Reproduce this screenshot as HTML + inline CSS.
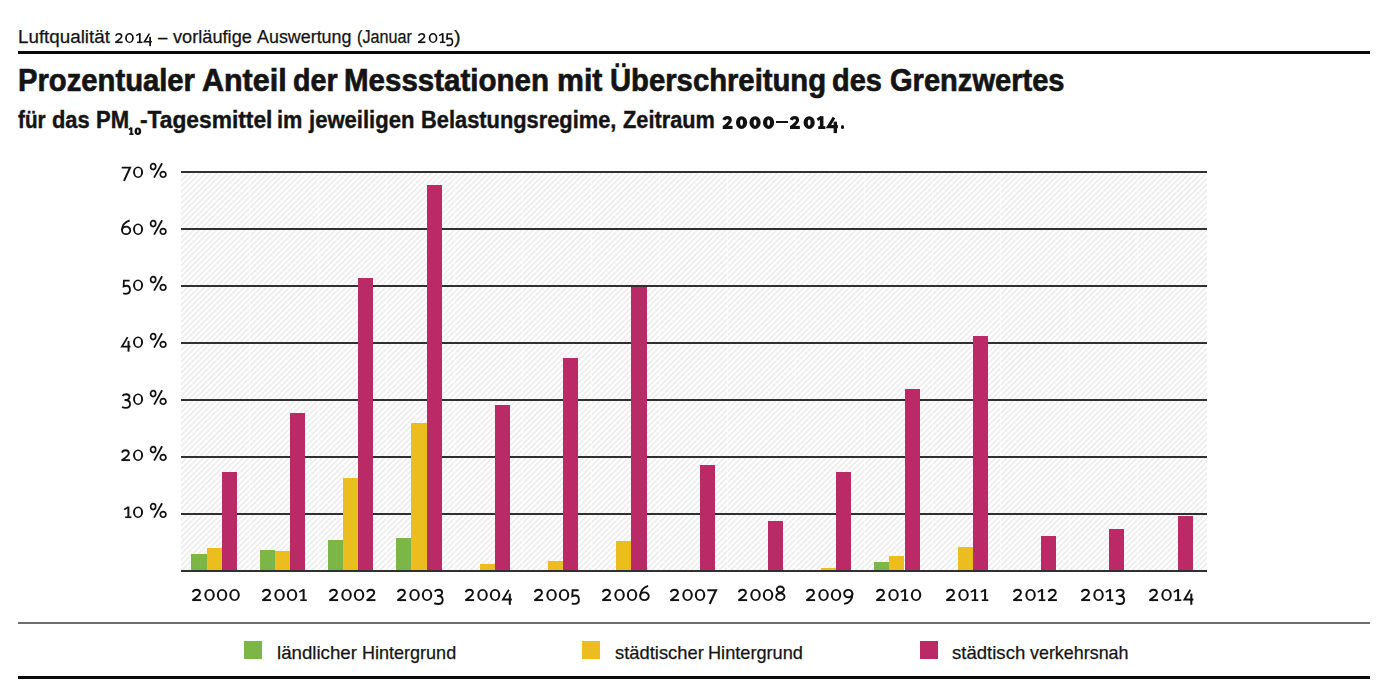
<!DOCTYPE html>
<html lang="de"><head><meta charset="utf-8"><title>PM10 Grenzwertüberschreitung</title>
<style>
*{margin:0;padding:0;box-sizing:border-box}
html,body{width:1388px;height:697px;background:#fff;overflow:hidden}
body{position:relative;font-family:"Liberation Sans",sans-serif;color:#111}
.a{position:absolute}
.t{position:absolute;white-space:nowrap;line-height:1;transform-origin:0 0;color:#141414}
.rule{position:absolute;left:18px;width:1352px;background:#0a0a0a}
.grid{position:absolute;height:2px;background:#303030}
.lg{position:absolute;width:18px;height:18px;top:641px}
svg.g{position:absolute;overflow:visible}
</style></head>
<body>
<div class="rule" style="top:50.5px;height:3px"></div>
<div class="a" style="left:181.0px;top:172.37px;width:1025.8px;height:398.23px;background:repeating-linear-gradient(135deg,#fff 0px,#fff 0.6px,#eaeaea 2.2px,#fff 3.8px,#fff 4px)"></div>
<div class="a" style="left:249.3px;top:172.37px;width:1px;height:398.23px;background:rgba(255,255,255,0.6)"></div>
<div class="a" style="left:317.5px;top:172.37px;width:1px;height:398.23px;background:rgba(255,255,255,0.6)"></div>
<div class="a" style="left:385.8px;top:172.37px;width:1px;height:398.23px;background:rgba(255,255,255,0.6)"></div>
<div class="a" style="left:454.1px;top:172.37px;width:1px;height:398.23px;background:rgba(255,255,255,0.6)"></div>
<div class="a" style="left:522.3px;top:172.37px;width:1px;height:398.23px;background:rgba(255,255,255,0.6)"></div>
<div class="a" style="left:590.6px;top:172.37px;width:1px;height:398.23px;background:rgba(255,255,255,0.6)"></div>
<div class="a" style="left:658.9px;top:172.37px;width:1px;height:398.23px;background:rgba(255,255,255,0.6)"></div>
<div class="a" style="left:727.2px;top:172.37px;width:1px;height:398.23px;background:rgba(255,255,255,0.6)"></div>
<div class="a" style="left:795.4px;top:172.37px;width:1px;height:398.23px;background:rgba(255,255,255,0.6)"></div>
<div class="a" style="left:863.7px;top:172.37px;width:1px;height:398.23px;background:rgba(255,255,255,0.6)"></div>
<div class="a" style="left:932.0px;top:172.37px;width:1px;height:398.23px;background:rgba(255,255,255,0.6)"></div>
<div class="a" style="left:1000.2px;top:172.37px;width:1px;height:398.23px;background:rgba(255,255,255,0.6)"></div>
<div class="a" style="left:1068.5px;top:172.37px;width:1px;height:398.23px;background:rgba(255,255,255,0.6)"></div>
<div class="a" style="left:1136.8px;top:172.37px;width:1px;height:398.23px;background:rgba(255,255,255,0.6)"></div>
<div class="grid" style="left:181.0px;width:1025.8px;top:512.7px"></div>
<div class="grid" style="left:181.0px;width:1025.8px;top:455.8px"></div>
<div class="grid" style="left:181.0px;width:1025.8px;top:398.9px"></div>
<div class="grid" style="left:181.0px;width:1025.8px;top:342.0px"></div>
<div class="grid" style="left:181.0px;width:1025.8px;top:285.2px"></div>
<div class="grid" style="left:181.0px;width:1025.8px;top:228.3px"></div>
<div class="grid" style="left:181.0px;width:1025.8px;top:171.4px"></div>
<div class="a" style="left:191.4px;width:15.2px;top:554.1px;height:16.5px;background:#7cb646"></div>
<div class="a" style="left:206.6px;width:15.2px;top:548.4px;height:22.2px;background:#ebbd1f"></div>
<div class="a" style="left:221.8px;width:15.2px;top:471.8px;height:98.8px;background:#b92a67"></div>
<div class="a" style="left:259.7px;width:15.2px;top:549.8px;height:20.8px;background:#7cb646"></div>
<div class="a" style="left:274.9px;width:15.2px;top:551.3px;height:19.3px;background:#ebbd1f"></div>
<div class="a" style="left:290.1px;width:15.2px;top:412.7px;height:157.9px;background:#b92a67"></div>
<div class="a" style="left:327.9px;width:15.2px;top:539.5px;height:31.1px;background:#7cb646"></div>
<div class="a" style="left:343.1px;width:15.2px;top:477.8px;height:92.8px;background:#ebbd1f"></div>
<div class="a" style="left:358.3px;width:15.2px;top:278.4px;height:292.2px;background:#b92a67"></div>
<div class="a" style="left:396.2px;width:15.2px;top:537.5px;height:33.1px;background:#7cb646"></div>
<div class="a" style="left:411.4px;width:15.2px;top:422.5px;height:148.1px;background:#ebbd1f"></div>
<div class="a" style="left:426.6px;width:15.2px;top:185.2px;height:385.4px;background:#b92a67"></div>
<div class="a" style="left:479.7px;width:15.2px;top:564.1px;height:6.5px;background:#ebbd1f"></div>
<div class="a" style="left:494.9px;width:15.2px;top:405.0px;height:165.6px;background:#b92a67"></div>
<div class="a" style="left:547.9px;width:15.2px;top:561.0px;height:9.6px;background:#ebbd1f"></div>
<div class="a" style="left:563.1px;width:15.2px;top:358.2px;height:212.4px;background:#b92a67"></div>
<div class="a" style="left:616.2px;width:15.2px;top:540.5px;height:30.1px;background:#ebbd1f"></div>
<div class="a" style="left:631.4px;width:15.2px;top:287.2px;height:283.4px;background:#b92a67"></div>
<div class="a" style="left:699.7px;width:15.2px;top:465.2px;height:105.4px;background:#b92a67"></div>
<div class="a" style="left:768.0px;width:15.2px;top:520.7px;height:49.9px;background:#b92a67"></div>
<div class="a" style="left:821.0px;width:15.2px;top:567.5px;height:3.1px;background:#ebbd1f"></div>
<div class="a" style="left:836.2px;width:15.2px;top:471.9px;height:98.7px;background:#b92a67"></div>
<div class="a" style="left:874.1px;width:15.2px;top:561.8px;height:8.8px;background:#7cb646"></div>
<div class="a" style="left:889.3px;width:15.2px;top:556.0px;height:14.6px;background:#ebbd1f"></div>
<div class="a" style="left:904.5px;width:15.2px;top:388.6px;height:182.0px;background:#b92a67"></div>
<div class="a" style="left:957.6px;width:15.2px;top:546.9px;height:23.7px;background:#ebbd1f"></div>
<div class="a" style="left:972.8px;width:15.2px;top:336.1px;height:234.5px;background:#b92a67"></div>
<div class="a" style="left:1041.0px;width:15.2px;top:536.0px;height:34.6px;background:#b92a67"></div>
<div class="a" style="left:1109.3px;width:15.2px;top:528.5px;height:42.1px;background:#b92a67"></div>
<div class="a" style="left:1177.6px;width:15.2px;top:515.7px;height:54.9px;background:#b92a67"></div>
<div class="grid" style="left:181.0px;width:1025.8px;top:569.6px"></div>
<div class="rule" style="top:622px;height:2px;background:#6e6e6e"></div>
<div class="lg" style="left:244px;background:#7cb646"></div>
<div class="lg" style="left:582px;background:#ebbd1f"></div>
<div class="lg" style="left:920px;background:#b92a67"></div>
<div class="rule" style="top:676px;height:3px"></div>
<div class="t" style="left:17.56px;top:27.80px;font-size:18px;-webkit-text-stroke:0.25px #141414;transform:scaleX(1.0437)">Luftqualität</div>
<div class="t" style="left:157.80px;top:27.80px;font-size:18px;-webkit-text-stroke:0.25px #141414;transform:scaleX(0.9400)">–</div>
<div class="t" style="left:173.00px;top:27.80px;font-size:18px;-webkit-text-stroke:0.25px #141414;transform:scaleX(1.0104)">vorläufige</div>
<div class="t" style="left:256.80px;top:27.80px;font-size:18px;-webkit-text-stroke:0.25px #141414;transform:scaleX(0.9936)">Auswertung</div>
<div class="t" style="left:357.30px;top:27.80px;font-size:18px;-webkit-text-stroke:0.25px #141414;transform:scaleX(0.8983)">(Januar</div>
<div class="t" style="left:454.40px;top:27.80px;font-size:18px;-webkit-text-stroke:0.25px #141414;transform:scaleX(1.1000)">)</div>
<div class="t" style="left:18.37px;top:63.70px;font-size:32px;font-weight:bold;-webkit-text-stroke:0.7px #141414;transform:scaleX(0.9130)">Prozentualer</div>
<div class="t" style="left:202.05px;top:63.70px;font-size:32px;font-weight:bold;-webkit-text-stroke:0.7px #141414;transform:scaleX(0.9523)">Anteil</div>
<div class="t" style="left:292.61px;top:63.70px;font-size:32px;font-weight:bold;-webkit-text-stroke:0.7px #141414;transform:scaleX(0.8939)">der</div>
<div class="t" style="left:344.06px;top:63.70px;font-size:32px;font-weight:bold;-webkit-text-stroke:0.7px #141414;transform:scaleX(0.9219)">Messstationen</div>
<div class="t" style="left:557.11px;top:63.70px;font-size:32px;font-weight:bold;-webkit-text-stroke:0.7px #141414;transform:scaleX(0.9457)">mit</div>
<div class="t" style="left:610.17px;top:63.70px;font-size:32px;font-weight:bold;-webkit-text-stroke:0.7px #141414;transform:scaleX(0.9137)">Überschreitung</div>
<div class="t" style="left:831.99px;top:63.70px;font-size:32px;font-weight:bold;-webkit-text-stroke:0.7px #141414;transform:scaleX(0.9057)">des</div>
<div class="t" style="left:889.69px;top:63.70px;font-size:32px;font-weight:bold;-webkit-text-stroke:0.7px #141414;transform:scaleX(0.9084)">Grenzwertes</div>
<div class="t" style="left:18.40px;top:109.20px;font-size:23px;font-weight:bold;-webkit-text-stroke:0.4px #141414;transform:scaleX(0.8984)">für</div>
<div class="t" style="left:51.95px;top:109.20px;font-size:23px;font-weight:bold;-webkit-text-stroke:0.4px #141414;transform:scaleX(0.9500)">das</div>
<div class="t" style="left:95.94px;top:109.20px;font-size:23px;font-weight:bold;-webkit-text-stroke:0.4px #141414;transform:scaleX(0.9594)">PM</div>
<div class="t" style="left:140.06px;top:109.20px;font-size:23px;font-weight:bold;-webkit-text-stroke:0.4px #141414;transform:scaleX(0.9898)">-Tagesmittel</div>
<div class="t" style="left:277.06px;top:109.20px;font-size:23px;font-weight:bold;-webkit-text-stroke:0.4px #141414;transform:scaleX(0.9440)">im</div>
<div class="t" style="left:309.46px;top:109.20px;font-size:23px;font-weight:bold;-webkit-text-stroke:0.4px #141414;transform:scaleX(0.9591)">jeweiligen</div>
<div class="t" style="left:421.25px;top:109.20px;font-size:23px;font-weight:bold;-webkit-text-stroke:0.4px #141414;transform:scaleX(0.9495)">Belastungsregime,</div>
<div class="t" style="left:623.10px;top:109.20px;font-size:23px;font-weight:bold;-webkit-text-stroke:0.4px #141414;transform:scaleX(0.9458)">Zeitraum</div>
<div class="t" style="left:276.92px;top:643.10px;font-size:19px;-webkit-text-stroke:0.25px #141414;transform:scaleX(0.9825)">ländlicher</div>
<div class="t" style="left:361.75px;top:643.10px;font-size:19px;-webkit-text-stroke:0.25px #141414;transform:scaleX(0.9485)">Hintergrund</div>
<div class="t" style="left:614.53px;top:643.10px;font-size:19px;-webkit-text-stroke:0.25px #141414;transform:scaleX(0.9670)">städtischer</div>
<div class="t" style="left:708.14px;top:643.10px;font-size:19px;-webkit-text-stroke:0.25px #141414;transform:scaleX(0.9557)">Hintergrund</div>
<div class="t" style="left:951.92px;top:643.10px;font-size:19px;-webkit-text-stroke:0.25px #141414;transform:scaleX(0.9767)">städtisch</div>
<div class="t" style="left:1030.40px;top:643.10px;font-size:19px;-webkit-text-stroke:0.25px #141414;transform:scaleX(0.9423)">verkehrsnah</div>
<svg class="g" style="left:190.78px;top:600.90px" width="1" height="1"><g transform="translate(0.00,0) scale(1.0000)"><path d="M1.75,-8.7C2.4,-10.5 3.8,-11.2 5.35,-11.2C7.5,-11.2 8.9,-10 8.9,-8.2C8.9,-6.2 7.2,-4.7 1.9,-1.0" fill="none" stroke="#111" stroke-width="1.89"/><path d="M1.2,-0.9L10.1,-0.9" fill="none" stroke="#111" stroke-width="1.94"/></g><g transform="translate(12.30,0) scale(1.0000)"><path d="M1.00,-5.95A5.25,5.95 0 1,1 11.50,-5.95A5.25,5.95 0 1,1 1.00,-5.95ZM3.05,-5.95A3.20,4.35 0 1,0 9.45,-5.95A3.20,4.35 0 1,0 3.05,-5.95Z" fill="#111" fill-rule="evenodd"/></g><g transform="translate(24.80,0) scale(1.0000)"><path d="M1.00,-5.95A5.25,5.95 0 1,1 11.50,-5.95A5.25,5.95 0 1,1 1.00,-5.95ZM3.05,-5.95A3.20,4.35 0 1,0 9.45,-5.95A3.20,4.35 0 1,0 3.05,-5.95Z" fill="#111" fill-rule="evenodd"/></g><g transform="translate(37.30,0) scale(1.0000)"><path d="M1.00,-5.95A5.25,5.95 0 1,1 11.50,-5.95A5.25,5.95 0 1,1 1.00,-5.95ZM3.05,-5.95A3.20,4.35 0 1,0 9.45,-5.95A3.20,4.35 0 1,0 3.05,-5.95Z" fill="#111" fill-rule="evenodd"/></g></svg>
<svg class="g" style="left:260.56px;top:600.90px" width="1" height="1"><g transform="translate(0.00,0) scale(1.0000)"><path d="M1.75,-8.7C2.4,-10.5 3.8,-11.2 5.35,-11.2C7.5,-11.2 8.9,-10 8.9,-8.2C8.9,-6.2 7.2,-4.7 1.9,-1.0" fill="none" stroke="#111" stroke-width="1.89"/><path d="M1.2,-0.9L10.1,-0.9" fill="none" stroke="#111" stroke-width="1.94"/></g><g transform="translate(12.30,0) scale(1.0000)"><path d="M1.00,-5.95A5.25,5.95 0 1,1 11.50,-5.95A5.25,5.95 0 1,1 1.00,-5.95ZM3.05,-5.95A3.20,4.35 0 1,0 9.45,-5.95A3.20,4.35 0 1,0 3.05,-5.95Z" fill="#111" fill-rule="evenodd"/></g><g transform="translate(24.80,0) scale(1.0000)"><path d="M1.00,-5.95A5.25,5.95 0 1,1 11.50,-5.95A5.25,5.95 0 1,1 1.00,-5.95ZM3.05,-5.95A3.20,4.35 0 1,0 9.45,-5.95A3.20,4.35 0 1,0 3.05,-5.95Z" fill="#111" fill-rule="evenodd"/></g><g transform="translate(37.30,0) scale(1.0000)"><path d="M5.3,-11.85L5.3,-1.2" fill="none" stroke="#111" stroke-width="2.05"/><path d="M5.3,-11.3L0.9,-8.9" fill="none" stroke="#111" stroke-width="1.62"/><path d="M2.0,-0.8L8.5,-0.8" fill="none" stroke="#111" stroke-width="1.73"/></g></svg>
<svg class="g" style="left:328.02px;top:600.90px" width="1" height="1"><g transform="translate(0.00,0) scale(1.0000)"><path d="M1.75,-8.7C2.4,-10.5 3.8,-11.2 5.35,-11.2C7.5,-11.2 8.9,-10 8.9,-8.2C8.9,-6.2 7.2,-4.7 1.9,-1.0" fill="none" stroke="#111" stroke-width="1.89"/><path d="M1.2,-0.9L10.1,-0.9" fill="none" stroke="#111" stroke-width="1.94"/></g><g transform="translate(12.30,0) scale(1.0000)"><path d="M1.00,-5.95A5.25,5.95 0 1,1 11.50,-5.95A5.25,5.95 0 1,1 1.00,-5.95ZM3.05,-5.95A3.20,4.35 0 1,0 9.45,-5.95A3.20,4.35 0 1,0 3.05,-5.95Z" fill="#111" fill-rule="evenodd"/></g><g transform="translate(24.80,0) scale(1.0000)"><path d="M1.00,-5.95A5.25,5.95 0 1,1 11.50,-5.95A5.25,5.95 0 1,1 1.00,-5.95ZM3.05,-5.95A3.20,4.35 0 1,0 9.45,-5.95A3.20,4.35 0 1,0 3.05,-5.95Z" fill="#111" fill-rule="evenodd"/></g><g transform="translate(37.30,0) scale(1.0000)"><path d="M1.75,-8.7C2.4,-10.5 3.8,-11.2 5.35,-11.2C7.5,-11.2 8.9,-10 8.9,-8.2C8.9,-6.2 7.2,-4.7 1.9,-1.0" fill="none" stroke="#111" stroke-width="1.89"/><path d="M1.2,-0.9L10.1,-0.9" fill="none" stroke="#111" stroke-width="1.94"/></g></svg>
<svg class="g" style="left:396.19px;top:600.90px" width="1" height="1"><g transform="translate(0.00,0) scale(1.0000)"><path d="M1.75,-8.7C2.4,-10.5 3.8,-11.2 5.35,-11.2C7.5,-11.2 8.9,-10 8.9,-8.2C8.9,-6.2 7.2,-4.7 1.9,-1.0" fill="none" stroke="#111" stroke-width="1.89"/><path d="M1.2,-0.9L10.1,-0.9" fill="none" stroke="#111" stroke-width="1.94"/></g><g transform="translate(12.30,0) scale(1.0000)"><path d="M1.00,-5.95A5.25,5.95 0 1,1 11.50,-5.95A5.25,5.95 0 1,1 1.00,-5.95ZM3.05,-5.95A3.20,4.35 0 1,0 9.45,-5.95A3.20,4.35 0 1,0 3.05,-5.95Z" fill="#111" fill-rule="evenodd"/></g><g transform="translate(24.80,0) scale(1.0000)"><path d="M1.00,-5.95A5.25,5.95 0 1,1 11.50,-5.95A5.25,5.95 0 1,1 1.00,-5.95ZM3.05,-5.95A3.20,4.35 0 1,0 9.45,-5.95A3.20,4.35 0 1,0 3.05,-5.95Z" fill="#111" fill-rule="evenodd"/></g><g transform="translate(37.30,0) scale(1.0000)"><path d="M1.4,-9.4C2.4,-10.7 3.9,-11.2 5.4,-11.2C7.5,-11.2 8.8,-10.1 8.8,-8.4C8.8,-6.4 7,-5.2 3.7,-5.2C7.3,-5.2 9.4,-3.6 9.4,-1.0C9.4,1.7 7.4,3.0 5,3.0C3.5,3.0 2.1,2.7 1.0,2.1" fill="none" stroke="#111" stroke-width="1.89"/></g></svg>
<svg class="g" style="left:464.31px;top:600.90px" width="1" height="1"><g transform="translate(0.00,0) scale(1.0000)"><path d="M1.75,-8.7C2.4,-10.5 3.8,-11.2 5.35,-11.2C7.5,-11.2 8.9,-10 8.9,-8.2C8.9,-6.2 7.2,-4.7 1.9,-1.0" fill="none" stroke="#111" stroke-width="1.89"/><path d="M1.2,-0.9L10.1,-0.9" fill="none" stroke="#111" stroke-width="1.94"/></g><g transform="translate(12.30,0) scale(1.0000)"><path d="M1.00,-5.95A5.25,5.95 0 1,1 11.50,-5.95A5.25,5.95 0 1,1 1.00,-5.95ZM3.05,-5.95A3.20,4.35 0 1,0 9.45,-5.95A3.20,4.35 0 1,0 3.05,-5.95Z" fill="#111" fill-rule="evenodd"/></g><g transform="translate(24.80,0) scale(1.0000)"><path d="M1.00,-5.95A5.25,5.95 0 1,1 11.50,-5.95A5.25,5.95 0 1,1 1.00,-5.95ZM3.05,-5.95A3.20,4.35 0 1,0 9.45,-5.95A3.20,4.35 0 1,0 3.05,-5.95Z" fill="#111" fill-rule="evenodd"/></g><g transform="translate(37.30,0) scale(1.0000)"><path d="M7.6,-11.3L1.6,-1.5L10.6,-1.5" fill="none" stroke="#111" stroke-width="1.84"/><path d="M8.5,-7.4L8.5,3.8" fill="none" stroke="#111" stroke-width="2.05"/></g></svg>
<svg class="g" style="left:533.13px;top:600.90px" width="1" height="1"><g transform="translate(0.00,0) scale(1.0000)"><path d="M1.75,-8.7C2.4,-10.5 3.8,-11.2 5.35,-11.2C7.5,-11.2 8.9,-10 8.9,-8.2C8.9,-6.2 7.2,-4.7 1.9,-1.0" fill="none" stroke="#111" stroke-width="1.89"/><path d="M1.2,-0.9L10.1,-0.9" fill="none" stroke="#111" stroke-width="1.94"/></g><g transform="translate(12.30,0) scale(1.0000)"><path d="M1.00,-5.95A5.25,5.95 0 1,1 11.50,-5.95A5.25,5.95 0 1,1 1.00,-5.95ZM3.05,-5.95A3.20,4.35 0 1,0 9.45,-5.95A3.20,4.35 0 1,0 3.05,-5.95Z" fill="#111" fill-rule="evenodd"/></g><g transform="translate(24.80,0) scale(1.0000)"><path d="M1.00,-5.95A5.25,5.95 0 1,1 11.50,-5.95A5.25,5.95 0 1,1 1.00,-5.95ZM3.05,-5.95A3.20,4.35 0 1,0 9.45,-5.95A3.20,4.35 0 1,0 3.05,-5.95Z" fill="#111" fill-rule="evenodd"/></g><g transform="translate(37.30,0) scale(1.0000)"><path d="M8.3,-10.8L2.3,-10.8L2.0,-4.8C3.0,-5.3 4.0,-5.5 5.0,-5.5C7.3,-5.5 8.6,-3.8 8.6,-1.2C8.6,1.5 6.7,2.9 4.4,2.9C3.3,2.9 2.4,2.7 1.5,2.3" fill="none" stroke="#111" stroke-width="1.89"/></g></svg>
<svg class="g" style="left:600.50px;top:600.90px" width="1" height="1"><g transform="translate(0.00,0) scale(1.0000)"><path d="M1.75,-8.7C2.4,-10.5 3.8,-11.2 5.35,-11.2C7.5,-11.2 8.9,-10 8.9,-8.2C8.9,-6.2 7.2,-4.7 1.9,-1.0" fill="none" stroke="#111" stroke-width="1.89"/><path d="M1.2,-0.9L10.1,-0.9" fill="none" stroke="#111" stroke-width="1.94"/></g><g transform="translate(12.30,0) scale(1.0000)"><path d="M1.00,-5.95A5.25,5.95 0 1,1 11.50,-5.95A5.25,5.95 0 1,1 1.00,-5.95ZM3.05,-5.95A3.20,4.35 0 1,0 9.45,-5.95A3.20,4.35 0 1,0 3.05,-5.95Z" fill="#111" fill-rule="evenodd"/></g><g transform="translate(24.80,0) scale(1.0000)"><path d="M1.00,-5.95A5.25,5.95 0 1,1 11.50,-5.95A5.25,5.95 0 1,1 1.00,-5.95ZM3.05,-5.95A3.20,4.35 0 1,0 9.45,-5.95A3.20,4.35 0 1,0 3.05,-5.95Z" fill="#111" fill-rule="evenodd"/></g><g transform="translate(37.30,0) scale(1.0000)"><path d="M1.85,-4.75A4.30,3.90 0 1,1 10.45,-4.75A4.30,3.90 0 1,1 1.85,-4.75Z" fill="none" stroke="#111" stroke-width="1.89"/><path d="M9.8,-15.2C5.6,-13.8 1.9,-10.8 1.9,-4.8" fill="none" stroke="#111" stroke-width="1.89"/></g></svg>
<svg class="g" style="left:669.27px;top:600.90px" width="1" height="1"><g transform="translate(0.00,0) scale(1.0000)"><path d="M1.75,-8.7C2.4,-10.5 3.8,-11.2 5.35,-11.2C7.5,-11.2 8.9,-10 8.9,-8.2C8.9,-6.2 7.2,-4.7 1.9,-1.0" fill="none" stroke="#111" stroke-width="1.89"/><path d="M1.2,-0.9L10.1,-0.9" fill="none" stroke="#111" stroke-width="1.94"/></g><g transform="translate(12.30,0) scale(1.0000)"><path d="M1.00,-5.95A5.25,5.95 0 1,1 11.50,-5.95A5.25,5.95 0 1,1 1.00,-5.95ZM3.05,-5.95A3.20,4.35 0 1,0 9.45,-5.95A3.20,4.35 0 1,0 3.05,-5.95Z" fill="#111" fill-rule="evenodd"/></g><g transform="translate(24.80,0) scale(1.0000)"><path d="M1.00,-5.95A5.25,5.95 0 1,1 11.50,-5.95A5.25,5.95 0 1,1 1.00,-5.95ZM3.05,-5.95A3.20,4.35 0 1,0 9.45,-5.95A3.20,4.35 0 1,0 3.05,-5.95Z" fill="#111" fill-rule="evenodd"/></g><g transform="translate(37.30,0) scale(1.0000)"><path d="M1.0,-10.8L9.7,-10.8L3.4,3.0" fill="none" stroke="#111" stroke-width="2.05"/></g></svg>
<svg class="g" style="left:737.14px;top:600.90px" width="1" height="1"><g transform="translate(0.00,0) scale(1.0000)"><path d="M1.75,-8.7C2.4,-10.5 3.8,-11.2 5.35,-11.2C7.5,-11.2 8.9,-10 8.9,-8.2C8.9,-6.2 7.2,-4.7 1.9,-1.0" fill="none" stroke="#111" stroke-width="1.89"/><path d="M1.2,-0.9L10.1,-0.9" fill="none" stroke="#111" stroke-width="1.94"/></g><g transform="translate(12.30,0) scale(1.0000)"><path d="M1.00,-5.95A5.25,5.95 0 1,1 11.50,-5.95A5.25,5.95 0 1,1 1.00,-5.95ZM3.05,-5.95A3.20,4.35 0 1,0 9.45,-5.95A3.20,4.35 0 1,0 3.05,-5.95Z" fill="#111" fill-rule="evenodd"/></g><g transform="translate(24.80,0) scale(1.0000)"><path d="M1.00,-5.95A5.25,5.95 0 1,1 11.50,-5.95A5.25,5.95 0 1,1 1.00,-5.95ZM3.05,-5.95A3.20,4.35 0 1,0 9.45,-5.95A3.20,4.35 0 1,0 3.05,-5.95Z" fill="#111" fill-rule="evenodd"/></g><g transform="translate(37.30,0) scale(1.0000)"><path d="M2.50,-11.50A3.55,3.00 0 1,1 9.60,-11.50A3.55,3.00 0 1,1 2.50,-11.50Z" fill="none" stroke="#111" stroke-width="1.84"/><path d="M1.85,-4.30A4.20,3.45 0 1,1 10.25,-4.30A4.20,3.45 0 1,1 1.85,-4.30Z" fill="none" stroke="#111" stroke-width="1.89"/></g></svg>
<svg class="g" style="left:805.46px;top:600.90px" width="1" height="1"><g transform="translate(0.00,0) scale(1.0000)"><path d="M1.75,-8.7C2.4,-10.5 3.8,-11.2 5.35,-11.2C7.5,-11.2 8.9,-10 8.9,-8.2C8.9,-6.2 7.2,-4.7 1.9,-1.0" fill="none" stroke="#111" stroke-width="1.89"/><path d="M1.2,-0.9L10.1,-0.9" fill="none" stroke="#111" stroke-width="1.94"/></g><g transform="translate(12.30,0) scale(1.0000)"><path d="M1.00,-5.95A5.25,5.95 0 1,1 11.50,-5.95A5.25,5.95 0 1,1 1.00,-5.95ZM3.05,-5.95A3.20,4.35 0 1,0 9.45,-5.95A3.20,4.35 0 1,0 3.05,-5.95Z" fill="#111" fill-rule="evenodd"/></g><g transform="translate(24.80,0) scale(1.0000)"><path d="M1.00,-5.95A5.25,5.95 0 1,1 11.50,-5.95A5.25,5.95 0 1,1 1.00,-5.95ZM3.05,-5.95A3.20,4.35 0 1,0 9.45,-5.95A3.20,4.35 0 1,0 3.05,-5.95Z" fill="#111" fill-rule="evenodd"/></g><g transform="translate(37.30,0) scale(1.0000)"><path d="M1.85,-7.40A4.15,3.70 0 1,1 10.15,-7.40A4.15,3.70 0 1,1 1.85,-7.40Z" fill="none" stroke="#111" stroke-width="1.89"/><path d="M10.15,-7.6C10.15,-2 7.6,1.8 1.8,2.9" fill="none" stroke="#111" stroke-width="1.89"/></g></svg>
<svg class="g" style="left:874.73px;top:600.90px" width="1" height="1"><g transform="translate(0.00,0) scale(1.0000)"><path d="M1.75,-8.7C2.4,-10.5 3.8,-11.2 5.35,-11.2C7.5,-11.2 8.9,-10 8.9,-8.2C8.9,-6.2 7.2,-4.7 1.9,-1.0" fill="none" stroke="#111" stroke-width="1.89"/><path d="M1.2,-0.9L10.1,-0.9" fill="none" stroke="#111" stroke-width="1.94"/></g><g transform="translate(12.30,0) scale(1.0000)"><path d="M1.00,-5.95A5.25,5.95 0 1,1 11.50,-5.95A5.25,5.95 0 1,1 1.00,-5.95ZM3.05,-5.95A3.20,4.35 0 1,0 9.45,-5.95A3.20,4.35 0 1,0 3.05,-5.95Z" fill="#111" fill-rule="evenodd"/></g><g transform="translate(24.80,0) scale(1.0000)"><path d="M5.3,-11.85L5.3,-1.2" fill="none" stroke="#111" stroke-width="2.05"/><path d="M5.3,-11.3L0.9,-8.9" fill="none" stroke="#111" stroke-width="1.62"/><path d="M2.0,-0.8L8.5,-0.8" fill="none" stroke="#111" stroke-width="1.73"/></g><g transform="translate(34.80,0) scale(1.0000)"><path d="M1.00,-5.95A5.25,5.95 0 1,1 11.50,-5.95A5.25,5.95 0 1,1 1.00,-5.95ZM3.05,-5.95A3.20,4.35 0 1,0 9.45,-5.95A3.20,4.35 0 1,0 3.05,-5.95Z" fill="#111" fill-rule="evenodd"/></g></svg>
<svg class="g" style="left:944.50px;top:600.90px" width="1" height="1"><g transform="translate(0.00,0) scale(1.0000)"><path d="M1.75,-8.7C2.4,-10.5 3.8,-11.2 5.35,-11.2C7.5,-11.2 8.9,-10 8.9,-8.2C8.9,-6.2 7.2,-4.7 1.9,-1.0" fill="none" stroke="#111" stroke-width="1.89"/><path d="M1.2,-0.9L10.1,-0.9" fill="none" stroke="#111" stroke-width="1.94"/></g><g transform="translate(12.30,0) scale(1.0000)"><path d="M1.00,-5.95A5.25,5.95 0 1,1 11.50,-5.95A5.25,5.95 0 1,1 1.00,-5.95ZM3.05,-5.95A3.20,4.35 0 1,0 9.45,-5.95A3.20,4.35 0 1,0 3.05,-5.95Z" fill="#111" fill-rule="evenodd"/></g><g transform="translate(24.80,0) scale(1.0000)"><path d="M5.3,-11.85L5.3,-1.2" fill="none" stroke="#111" stroke-width="2.05"/><path d="M5.3,-11.3L0.9,-8.9" fill="none" stroke="#111" stroke-width="1.62"/><path d="M2.0,-0.8L8.5,-0.8" fill="none" stroke="#111" stroke-width="1.73"/></g><g transform="translate(34.80,0) scale(1.0000)"><path d="M5.3,-11.85L5.3,-1.2" fill="none" stroke="#111" stroke-width="2.05"/><path d="M5.3,-11.3L0.9,-8.9" fill="none" stroke="#111" stroke-width="1.62"/><path d="M2.0,-0.8L8.5,-0.8" fill="none" stroke="#111" stroke-width="1.73"/></g></svg>
<svg class="g" style="left:1011.98px;top:600.90px" width="1" height="1"><g transform="translate(0.00,0) scale(1.0000)"><path d="M1.75,-8.7C2.4,-10.5 3.8,-11.2 5.35,-11.2C7.5,-11.2 8.9,-10 8.9,-8.2C8.9,-6.2 7.2,-4.7 1.9,-1.0" fill="none" stroke="#111" stroke-width="1.89"/><path d="M1.2,-0.9L10.1,-0.9" fill="none" stroke="#111" stroke-width="1.94"/></g><g transform="translate(12.30,0) scale(1.0000)"><path d="M1.00,-5.95A5.25,5.95 0 1,1 11.50,-5.95A5.25,5.95 0 1,1 1.00,-5.95ZM3.05,-5.95A3.20,4.35 0 1,0 9.45,-5.95A3.20,4.35 0 1,0 3.05,-5.95Z" fill="#111" fill-rule="evenodd"/></g><g transform="translate(24.80,0) scale(1.0000)"><path d="M5.3,-11.85L5.3,-1.2" fill="none" stroke="#111" stroke-width="2.05"/><path d="M5.3,-11.3L0.9,-8.9" fill="none" stroke="#111" stroke-width="1.62"/><path d="M2.0,-0.8L8.5,-0.8" fill="none" stroke="#111" stroke-width="1.73"/></g><g transform="translate(34.80,0) scale(1.0000)"><path d="M1.75,-8.7C2.4,-10.5 3.8,-11.2 5.35,-11.2C7.5,-11.2 8.9,-10 8.9,-8.2C8.9,-6.2 7.2,-4.7 1.9,-1.0" fill="none" stroke="#111" stroke-width="1.89"/><path d="M1.2,-0.9L10.1,-0.9" fill="none" stroke="#111" stroke-width="1.94"/></g></svg>
<svg class="g" style="left:1080.14px;top:600.90px" width="1" height="1"><g transform="translate(0.00,0) scale(1.0000)"><path d="M1.75,-8.7C2.4,-10.5 3.8,-11.2 5.35,-11.2C7.5,-11.2 8.9,-10 8.9,-8.2C8.9,-6.2 7.2,-4.7 1.9,-1.0" fill="none" stroke="#111" stroke-width="1.89"/><path d="M1.2,-0.9L10.1,-0.9" fill="none" stroke="#111" stroke-width="1.94"/></g><g transform="translate(12.30,0) scale(1.0000)"><path d="M1.00,-5.95A5.25,5.95 0 1,1 11.50,-5.95A5.25,5.95 0 1,1 1.00,-5.95ZM3.05,-5.95A3.20,4.35 0 1,0 9.45,-5.95A3.20,4.35 0 1,0 3.05,-5.95Z" fill="#111" fill-rule="evenodd"/></g><g transform="translate(24.80,0) scale(1.0000)"><path d="M5.3,-11.85L5.3,-1.2" fill="none" stroke="#111" stroke-width="2.05"/><path d="M5.3,-11.3L0.9,-8.9" fill="none" stroke="#111" stroke-width="1.62"/><path d="M2.0,-0.8L8.5,-0.8" fill="none" stroke="#111" stroke-width="1.73"/></g><g transform="translate(34.80,0) scale(1.0000)"><path d="M1.4,-9.4C2.4,-10.7 3.9,-11.2 5.4,-11.2C7.5,-11.2 8.8,-10.1 8.8,-8.4C8.8,-6.4 7,-5.2 3.7,-5.2C7.3,-5.2 9.4,-3.6 9.4,-1.0C9.4,1.7 7.4,3.0 5,3.0C3.5,3.0 2.1,2.7 1.0,2.1" fill="none" stroke="#111" stroke-width="1.89"/></g></svg>
<svg class="g" style="left:1148.26px;top:600.90px" width="1" height="1"><g transform="translate(0.00,0) scale(1.0000)"><path d="M1.75,-8.7C2.4,-10.5 3.8,-11.2 5.35,-11.2C7.5,-11.2 8.9,-10 8.9,-8.2C8.9,-6.2 7.2,-4.7 1.9,-1.0" fill="none" stroke="#111" stroke-width="1.89"/><path d="M1.2,-0.9L10.1,-0.9" fill="none" stroke="#111" stroke-width="1.94"/></g><g transform="translate(12.30,0) scale(1.0000)"><path d="M1.00,-5.95A5.25,5.95 0 1,1 11.50,-5.95A5.25,5.95 0 1,1 1.00,-5.95ZM3.05,-5.95A3.20,4.35 0 1,0 9.45,-5.95A3.20,4.35 0 1,0 3.05,-5.95Z" fill="#111" fill-rule="evenodd"/></g><g transform="translate(24.80,0) scale(1.0000)"><path d="M5.3,-11.85L5.3,-1.2" fill="none" stroke="#111" stroke-width="2.05"/><path d="M5.3,-11.3L0.9,-8.9" fill="none" stroke="#111" stroke-width="1.62"/><path d="M2.0,-0.8L8.5,-0.8" fill="none" stroke="#111" stroke-width="1.73"/></g><g transform="translate(34.80,0) scale(1.0000)"><path d="M7.6,-11.3L1.6,-1.5L10.6,-1.5" fill="none" stroke="#111" stroke-width="1.84"/><path d="M8.5,-7.4L8.5,3.8" fill="none" stroke="#111" stroke-width="2.05"/></g></svg>
<svg class="g" style="left:0px;top:43.00px" width="1" height="1"><g transform="translate(114.25,0) scale(0.8300)"><path d="M1.75,-8.7C2.4,-10.5 3.8,-11.2 5.35,-11.2C7.5,-11.2 8.9,-10 8.9,-8.2C8.9,-6.2 7.2,-4.7 1.9,-1.0" fill="none" stroke="#111" stroke-width="1.96"/><path d="M1.2,-0.9L10.1,-0.9" fill="none" stroke="#111" stroke-width="2.02"/></g><g transform="translate(124.27,0) scale(0.8300)"><path d="M1.00,-5.95A5.25,5.95 0 1,1 11.50,-5.95A5.25,5.95 0 1,1 1.00,-5.95ZM3.05,-5.95A3.20,4.35 0 1,0 9.45,-5.95A3.20,4.35 0 1,0 3.05,-5.95Z" fill="#111" fill-rule="evenodd"/></g><g transform="translate(135.40,0) scale(0.8300)"><path d="M5.3,-11.85L5.3,-1.2" fill="none" stroke="#111" stroke-width="2.13"/><path d="M5.3,-11.3L0.9,-8.9" fill="none" stroke="#111" stroke-width="1.68"/><path d="M2.0,-0.8L8.5,-0.8" fill="none" stroke="#111" stroke-width="1.79"/></g><g transform="translate(143.07,0) scale(0.8300)"><path d="M7.6,-11.3L1.6,-1.5L10.6,-1.5" fill="none" stroke="#111" stroke-width="1.90"/><path d="M8.5,-7.4L8.5,3.8" fill="none" stroke="#111" stroke-width="2.13"/></g></svg>
<svg class="g" style="left:0px;top:43.10px" width="1" height="1"><g transform="translate(417.05,0) scale(0.8300)"><path d="M1.75,-8.7C2.4,-10.5 3.8,-11.2 5.35,-11.2C7.5,-11.2 8.9,-10 8.9,-8.2C8.9,-6.2 7.2,-4.7 1.9,-1.0" fill="none" stroke="#111" stroke-width="1.96"/><path d="M1.2,-0.9L10.1,-0.9" fill="none" stroke="#111" stroke-width="2.02"/></g><g transform="translate(427.87,0) scale(0.8300)"><path d="M1.00,-5.95A5.25,5.95 0 1,1 11.50,-5.95A5.25,5.95 0 1,1 1.00,-5.95ZM3.05,-5.95A3.20,4.35 0 1,0 9.45,-5.95A3.20,4.35 0 1,0 3.05,-5.95Z" fill="#111" fill-rule="evenodd"/></g><g transform="translate(438.30,0) scale(0.8300)"><path d="M5.3,-11.85L5.3,-1.2" fill="none" stroke="#111" stroke-width="2.13"/><path d="M5.3,-11.3L0.9,-8.9" fill="none" stroke="#111" stroke-width="1.68"/><path d="M2.0,-0.8L8.5,-0.8" fill="none" stroke="#111" stroke-width="1.79"/></g><g transform="translate(445.37,0) scale(0.8300)"><path d="M8.3,-10.8L2.3,-10.8L2.0,-4.8C3.0,-5.3 4.0,-5.5 5.0,-5.5C7.3,-5.5 8.6,-3.8 8.6,-1.2C8.6,1.5 6.7,2.9 4.4,2.9C3.3,2.9 2.4,2.7 1.5,2.3" fill="none" stroke="#111" stroke-width="1.96"/></g></svg>
<svg class="g" style="left:0px;top:128.70px" width="1" height="1"><g transform="translate(721.43,0) scale(1.0800)"><path d="M2.2,-8.5C2.9,-10.0 4.1,-10.5 5.4,-10.5C7.2,-10.5 8.2,-9.5 8.2,-8.0C8.2,-6.2 6.6,-4.8 2.4,-1.6" fill="none" stroke="#111" stroke-width="2.90"/><path d="M1.2,-1.45L10.3,-1.45" fill="none" stroke="#111" stroke-width="2.90"/></g><g transform="translate(734.82,0) scale(1.0800)"><path d="M1.05,-5.95A5.20,5.95 0 1,1 11.45,-5.95A5.20,5.95 0 1,1 1.05,-5.95ZM4.95,-5.95A1.30,2.90 0 1,0 7.55,-5.95A1.30,2.90 0 1,0 4.95,-5.95Z" fill="#111" fill-rule="evenodd"/></g><g transform="translate(748.32,0) scale(1.0800)"><path d="M1.05,-5.95A5.20,5.95 0 1,1 11.45,-5.95A5.20,5.95 0 1,1 1.05,-5.95ZM4.95,-5.95A1.30,2.90 0 1,0 7.55,-5.95A1.30,2.90 0 1,0 4.95,-5.95Z" fill="#111" fill-rule="evenodd"/></g><g transform="translate(761.82,0) scale(1.0800)"><path d="M1.05,-5.95A5.20,5.95 0 1,1 11.45,-5.95A5.20,5.95 0 1,1 1.05,-5.95ZM4.95,-5.95A1.30,2.90 0 1,0 7.55,-5.95A1.30,2.90 0 1,0 4.95,-5.95Z" fill="#111" fill-rule="evenodd"/></g></svg>
<svg class="g" style="left:0px;top:128.70px" width="1" height="1"><g transform="translate(788.73,0) scale(1.0800)"><path d="M2.2,-8.5C2.9,-10.0 4.1,-10.5 5.4,-10.5C7.2,-10.5 8.2,-9.5 8.2,-8.0C8.2,-6.2 6.6,-4.8 2.4,-1.6" fill="none" stroke="#111" stroke-width="2.90"/><path d="M1.2,-1.45L10.3,-1.45" fill="none" stroke="#111" stroke-width="2.90"/></g><g transform="translate(802.42,0) scale(1.0800)"><path d="M1.05,-5.95A5.20,5.95 0 1,1 11.45,-5.95A5.20,5.95 0 1,1 1.05,-5.95ZM4.95,-5.95A1.30,2.90 0 1,0 7.55,-5.95A1.30,2.90 0 1,0 4.95,-5.95Z" fill="#111" fill-rule="evenodd"/></g><g transform="translate(816.05,0) scale(1.0800)"><path d="M5.2,-11.85L5.2,-1.5" fill="none" stroke="#111" stroke-width="3.30"/><path d="M5.0,-10.9L1.2,-8.6" fill="none" stroke="#111" stroke-width="2.60"/><path d="M2.0,-1.3L8.6,-1.3" fill="none" stroke="#111" stroke-width="2.60"/></g><g transform="translate(826.02,0) scale(1.0800)"><path d="M7.4,-10.6L2.2,-2.2L11.0,-2.2" fill="none" stroke="#111" stroke-width="2.80"/><path d="M8.6,-6.8L8.6,3.8" fill="none" stroke="#111" stroke-width="3.10"/></g></svg>
<svg class="g" style="left:0px;top:134.90px" width="1" height="1"><g transform="translate(128.02,0) scale(0.6400)"><path d="M5.2,-11.85L5.2,-1.5" fill="none" stroke="#111" stroke-width="3.30"/><path d="M5.0,-10.9L1.2,-8.6" fill="none" stroke="#111" stroke-width="2.60"/><path d="M2.0,-1.3L8.6,-1.3" fill="none" stroke="#111" stroke-width="2.60"/></g><g transform="translate(133.86,0) scale(0.6400)"><path d="M1.05,-5.95A5.20,5.95 0 1,1 11.45,-5.95A5.20,5.95 0 1,1 1.05,-5.95ZM4.95,-5.95A1.30,2.90 0 1,0 7.55,-5.95A1.30,2.90 0 1,0 4.95,-5.95Z" fill="#111" fill-rule="evenodd"/></g></svg>
<div class="a" style="left:776.1px;top:120.9px;width:11.9px;height:2.1px;background:#111"></div>
<div class="a" style="left:840.6px;top:125.1px;width:3.9px;height:3.9px;border-radius:50%;background:#111"></div>
<svg class="g" style="left:0px;top:517.90px" width="1" height="1"><g transform="translate(123.27,0) scale(0.9600)"><path d="M5.3,-11.85L5.3,-1.2" fill="none" stroke="#111" stroke-width="2.05"/><path d="M5.3,-11.3L0.9,-8.9" fill="none" stroke="#111" stroke-width="1.62"/><path d="M2.0,-0.8L8.5,-0.8" fill="none" stroke="#111" stroke-width="1.73"/></g><g transform="translate(132.07,0) scale(0.9600)"><path d="M1.00,-5.95A5.25,5.95 0 1,1 11.50,-5.95A5.25,5.95 0 1,1 1.00,-5.95ZM3.05,-5.95A3.20,4.35 0 1,0 9.45,-5.95A3.20,4.35 0 1,0 3.05,-5.95Z" fill="#111" fill-rule="evenodd"/></g><g transform="translate(149.00,0) scale(1.0000)"><path d="M1.60,-11.40A2.55,2.95 0 1,1 6.70,-11.40A2.55,2.95 0 1,1 1.60,-11.40Z" fill="none" stroke="#111" stroke-width="1.68"/><path d="M11.30,-3.60A2.80,2.85 0 1,1 16.90,-3.60A2.80,2.85 0 1,1 11.30,-3.60Z" fill="none" stroke="#111" stroke-width="1.68"/><path d="M13.1,-14.8L5.1,-0.4" fill="none" stroke="#111" stroke-width="1.78"/></g></svg>
<svg class="g" style="left:0px;top:461.27px" width="1" height="1"><g transform="translate(120.26,0) scale(0.9600)"><path d="M1.75,-8.7C2.4,-10.5 3.8,-11.2 5.35,-11.2C7.5,-11.2 8.9,-10 8.9,-8.2C8.9,-6.2 7.2,-4.7 1.9,-1.0" fill="none" stroke="#111" stroke-width="1.89"/><path d="M1.2,-0.9L10.1,-0.9" fill="none" stroke="#111" stroke-width="1.94"/></g><g transform="translate(132.07,0) scale(0.9600)"><path d="M1.00,-5.95A5.25,5.95 0 1,1 11.50,-5.95A5.25,5.95 0 1,1 1.00,-5.95ZM3.05,-5.95A3.20,4.35 0 1,0 9.45,-5.95A3.20,4.35 0 1,0 3.05,-5.95Z" fill="#111" fill-rule="evenodd"/></g><g transform="translate(149.00,0) scale(1.0000)"><path d="M1.60,-11.40A2.55,2.95 0 1,1 6.70,-11.40A2.55,2.95 0 1,1 1.60,-11.40Z" fill="none" stroke="#111" stroke-width="1.68"/><path d="M11.30,-3.60A2.80,2.85 0 1,1 16.90,-3.60A2.80,2.85 0 1,1 11.30,-3.60Z" fill="none" stroke="#111" stroke-width="1.68"/><path d="M13.1,-14.8L5.1,-0.4" fill="none" stroke="#111" stroke-width="1.78"/></g></svg>
<svg class="g" style="left:0px;top:404.64px" width="1" height="1"><g transform="translate(121.03,0) scale(0.9600)"><path d="M1.4,-9.4C2.4,-10.7 3.9,-11.2 5.4,-11.2C7.5,-11.2 8.8,-10.1 8.8,-8.4C8.8,-6.4 7,-5.2 3.7,-5.2C7.3,-5.2 9.4,-3.6 9.4,-1.0C9.4,1.7 7.4,3.0 5,3.0C3.5,3.0 2.1,2.7 1.0,2.1" fill="none" stroke="#111" stroke-width="1.89"/></g><g transform="translate(132.07,0) scale(0.9600)"><path d="M1.00,-5.95A5.25,5.95 0 1,1 11.50,-5.95A5.25,5.95 0 1,1 1.00,-5.95ZM3.05,-5.95A3.20,4.35 0 1,0 9.45,-5.95A3.20,4.35 0 1,0 3.05,-5.95Z" fill="#111" fill-rule="evenodd"/></g><g transform="translate(149.00,0) scale(1.0000)"><path d="M1.60,-11.40A2.55,2.95 0 1,1 6.70,-11.40A2.55,2.95 0 1,1 1.60,-11.40Z" fill="none" stroke="#111" stroke-width="1.68"/><path d="M11.30,-3.60A2.80,2.85 0 1,1 16.90,-3.60A2.80,2.85 0 1,1 11.30,-3.60Z" fill="none" stroke="#111" stroke-width="1.68"/><path d="M13.1,-14.8L5.1,-0.4" fill="none" stroke="#111" stroke-width="1.78"/></g></svg>
<svg class="g" style="left:0px;top:348.01px" width="1" height="1"><g transform="translate(120.36,0) scale(0.9600)"><path d="M7.6,-11.3L1.6,-1.5L10.6,-1.5" fill="none" stroke="#111" stroke-width="1.84"/><path d="M8.5,-7.4L8.5,3.8" fill="none" stroke="#111" stroke-width="2.05"/></g><g transform="translate(132.07,0) scale(0.9600)"><path d="M1.00,-5.95A5.25,5.95 0 1,1 11.50,-5.95A5.25,5.95 0 1,1 1.00,-5.95ZM3.05,-5.95A3.20,4.35 0 1,0 9.45,-5.95A3.20,4.35 0 1,0 3.05,-5.95Z" fill="#111" fill-rule="evenodd"/></g><g transform="translate(149.00,0) scale(1.0000)"><path d="M1.60,-11.40A2.55,2.95 0 1,1 6.70,-11.40A2.55,2.95 0 1,1 1.60,-11.40Z" fill="none" stroke="#111" stroke-width="1.68"/><path d="M11.30,-3.60A2.80,2.85 0 1,1 16.90,-3.60A2.80,2.85 0 1,1 11.30,-3.60Z" fill="none" stroke="#111" stroke-width="1.68"/><path d="M13.1,-14.8L5.1,-0.4" fill="none" stroke="#111" stroke-width="1.78"/></g></svg>
<svg class="g" style="left:0px;top:291.38px" width="1" height="1"><g transform="translate(121.70,0) scale(0.9600)"><path d="M8.3,-10.8L2.3,-10.8L2.0,-4.8C3.0,-5.3 4.0,-5.5 5.0,-5.5C7.3,-5.5 8.6,-3.8 8.6,-1.2C8.6,1.5 6.7,2.9 4.4,2.9C3.3,2.9 2.4,2.7 1.5,2.3" fill="none" stroke="#111" stroke-width="1.89"/></g><g transform="translate(132.07,0) scale(0.9600)"><path d="M1.00,-5.95A5.25,5.95 0 1,1 11.50,-5.95A5.25,5.95 0 1,1 1.00,-5.95ZM3.05,-5.95A3.20,4.35 0 1,0 9.45,-5.95A3.20,4.35 0 1,0 3.05,-5.95Z" fill="#111" fill-rule="evenodd"/></g><g transform="translate(149.00,0) scale(1.0000)"><path d="M1.60,-11.40A2.55,2.95 0 1,1 6.70,-11.40A2.55,2.95 0 1,1 1.60,-11.40Z" fill="none" stroke="#111" stroke-width="1.68"/><path d="M11.30,-3.60A2.80,2.85 0 1,1 16.90,-3.60A2.80,2.85 0 1,1 11.30,-3.60Z" fill="none" stroke="#111" stroke-width="1.68"/><path d="M13.1,-14.8L5.1,-0.4" fill="none" stroke="#111" stroke-width="1.78"/></g></svg>
<svg class="g" style="left:0px;top:234.75px" width="1" height="1"><g transform="translate(120.26,0) scale(0.9600)"><path d="M1.85,-4.75A4.30,3.90 0 1,1 10.45,-4.75A4.30,3.90 0 1,1 1.85,-4.75Z" fill="none" stroke="#111" stroke-width="1.89"/><path d="M9.8,-15.2C5.6,-13.8 1.9,-10.8 1.9,-4.8" fill="none" stroke="#111" stroke-width="1.89"/></g><g transform="translate(132.07,0) scale(0.9600)"><path d="M1.00,-5.95A5.25,5.95 0 1,1 11.50,-5.95A5.25,5.95 0 1,1 1.00,-5.95ZM3.05,-5.95A3.20,4.35 0 1,0 9.45,-5.95A3.20,4.35 0 1,0 3.05,-5.95Z" fill="#111" fill-rule="evenodd"/></g><g transform="translate(149.00,0) scale(1.0000)"><path d="M1.60,-11.40A2.55,2.95 0 1,1 6.70,-11.40A2.55,2.95 0 1,1 1.60,-11.40Z" fill="none" stroke="#111" stroke-width="1.68"/><path d="M11.30,-3.60A2.80,2.85 0 1,1 16.90,-3.60A2.80,2.85 0 1,1 11.30,-3.60Z" fill="none" stroke="#111" stroke-width="1.68"/><path d="M13.1,-14.8L5.1,-0.4" fill="none" stroke="#111" stroke-width="1.78"/></g></svg>
<svg class="g" style="left:0px;top:178.12px" width="1" height="1"><g transform="translate(120.74,0) scale(0.9600)"><path d="M1.0,-10.8L9.7,-10.8L3.4,3.0" fill="none" stroke="#111" stroke-width="2.05"/></g><g transform="translate(132.07,0) scale(0.9600)"><path d="M1.00,-5.95A5.25,5.95 0 1,1 11.50,-5.95A5.25,5.95 0 1,1 1.00,-5.95ZM3.05,-5.95A3.20,4.35 0 1,0 9.45,-5.95A3.20,4.35 0 1,0 3.05,-5.95Z" fill="#111" fill-rule="evenodd"/></g><g transform="translate(149.00,0) scale(1.0000)"><path d="M1.60,-11.40A2.55,2.95 0 1,1 6.70,-11.40A2.55,2.95 0 1,1 1.60,-11.40Z" fill="none" stroke="#111" stroke-width="1.68"/><path d="M11.30,-3.60A2.80,2.85 0 1,1 16.90,-3.60A2.80,2.85 0 1,1 11.30,-3.60Z" fill="none" stroke="#111" stroke-width="1.68"/><path d="M13.1,-14.8L5.1,-0.4" fill="none" stroke="#111" stroke-width="1.78"/></g></svg>
</body></html>
